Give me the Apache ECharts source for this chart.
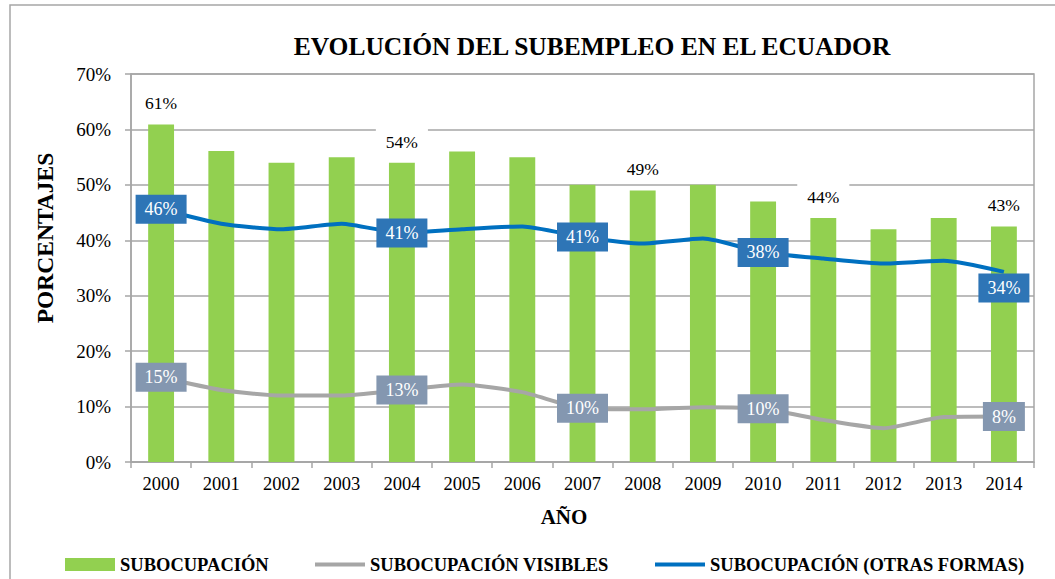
<!DOCTYPE html>
<html>
<head>
<meta charset="utf-8">
<script src="https://cdn.jsdelivr.net/npm/echarts@6/dist/echarts.min.js"></script>
<style>
  html, body { margin: 0; padding: 0; background: #fff; }
  #chart { width: 1055px; height: 579px; }
</style>
</head>
<body>
<div id="chart"></div>
<script>
// datos
const anios = ['2000', '2001', '2002', '2003', '2004', '2005', '2006', '2007', '2008', '2009', '2010', '2011', '2012', '2013', '2014']
const subocupacion = [60.9, 56.1, 54.0, 55.0, 54.0, 56.0, 55.0, 50.0, 49.0, 50.0, 47.0, 44.0, 42.0, 44.0, 42.5]
const subocupacionVisibles = [15.3, 13.0, 12.0, 12.0, 13.0, 14.0, 12.6, 9.7, 9.5, 9.9, 9.6, 7.6, 6.1, 8.1, 8.2]
const otrasFormas = [45.6, 43.0, 42.0, 43.0, 41.3, 42.0, 42.5, 40.6, 39.4, 40.3, 37.8, 36.7, 35.8, 36.3, 34.3]
// índices con etiqueta visible
const etiquetasBarra = [0, 4, 8, 11, 14]
const etiquetasLinea = [0, 4, 7, 10, 14]

const serif = "'Liberation Serif', 'Times New Roman', serif"
const gris = '#a6a6a6'
const pct = p => Math.round(p.value) + '%'

const chart = echarts.init(document.getElementById('chart'), null, { renderer: 'svg' })

const barData = subocupacion.map((v, i) => etiquetasBarra.includes(i)
  ? { value: v, label: { show: true } }
  : v)

function lineData(values, extra) {
  return values.map((v, i) => {
    if (!etiquetasLinea.includes(i)) return v
    const lab = { show: true }
    if (extra && extra[i]) Object.assign(lab, extra[i])
    return { value: v, label: lab }
  })
}

const legendText = { fontFamily: serif, fontSize: 18.5, fontWeight: 'bold', color: '#000' }

const option = {
  animation: false,
  backgroundColor: '#fff',
  textStyle: { fontFamily: serif },
  title: {
    text: 'EVOLUCIÓN DEL SUBEMPLEO EN EL ECUADOR',
    left: 587,
    top: 28,
    textAlign: 'center',
    textStyle: { fontFamily: serif, fontSize: 25.5, fontWeight: 'bold', color: '#000' }
  },
  graphic: [
    {
      type: 'rect', silent: true, z: -1,
      shape: { x: 10, y: 5, width: 1100, height: 700 },
      style: { fill: 'none', stroke: gris, lineWidth: 1.5 }
    },
    {
      type: 'text', x: 45, y: 238, rotation: Math.PI / 2,
      style: { text: 'PORCENTAJES', fontFamily: serif, fontSize: 23.5, fontWeight: 'bold', fill: '#000', align: 'center', verticalAlign: 'middle' }
    },
    {
      type: 'text', x: 564, y: 517,
      style: { text: 'AÑO', fontFamily: serif, fontSize: 21, fontWeight: 'bold', fill: '#000', align: 'center', verticalAlign: 'middle' }
    }
  ],
  legend: [
    {
      data: [{ name: 'SUBOCUPACIÓN', icon: 'rect' }],
      left: 65, top: 555, padding: 0, itemWidth: 50, itemHeight: 13,
      textStyle: legendText
    },
    {
      data: [{ name: 'SUBOCUPACIÓN VISIBLES', icon: 'rect' }],
      left: 315, top: 555, padding: 0, itemWidth: 50, itemHeight: 4,
      textStyle: legendText
    },
    {
      data: [{ name: 'SUBOCUPACIÓN (OTRAS FORMAS)', icon: 'rect' }],
      left: 655, top: 555, padding: 0, itemWidth: 50, itemHeight: 4,
      textStyle: legendText
    }
  ],
  grid: {
    left: 131, right: 21, top: 74, bottom: 117,
    show: true, borderColor: gris, borderWidth: 1.5
  },
  xAxis: {
    type: 'category',
    data: anios,
    axisLine: { lineStyle: { color: gris, width: 1.5 } },
    axisTick: { show: true, length: 6, lineStyle: { color: gris, width: 1.5 } },
    axisLabel: { fontFamily: serif, fontSize: 18.5, color: '#000', margin: 12 }
  },
  yAxis: {
    type: 'value',
    min: 0, max: 70, interval: 10,
    axisLine: { show: true, lineStyle: { color: gris, width: 1.5 } },
    axisTick: { show: true, length: 6, lineStyle: { color: gris, width: 1.5 } },
    splitLine: { lineStyle: { color: gris, width: 1.5 } },
    axisLabel: { fontFamily: serif, fontSize: 19, color: '#000', margin: 20, formatter: '{value}%' }
  },
  series: [
    {
      name: 'SUBOCUPACIÓN',
      type: 'bar',
      data: barData,
      barWidth: '43%',
      itemStyle: { color: '#92d050' },
      label: {
        show: false,
        position: 'top',
        distance: 7,
        formatter: pct,
        fontFamily: serif, fontSize: 17.5, color: '#000',
        backgroundColor: '#fff',
        padding: [5, 10]
      },
      z: 2
    },
    {
      name: 'SUBOCUPACIÓN VISIBLES',
      type: 'line',
      data: lineData(subocupacionVisibles),
      smooth: 0.2,
      symbol: 'circle',
      symbolSize: 0,
      lineStyle: { color: gris, width: 4 },
      itemStyle: { color: gris },
      label: {
        show: false,
        position: 'inside',
        formatter: pct,
        fontFamily: serif, fontSize: 18, color: '#fff',
        backgroundColor: '#8497b0',
        padding: [6, 9, 5, 9]
      },
      z: 3
    },
    {
      name: 'SUBOCUPACIÓN (OTRAS FORMAS)',
      type: 'line',
      data: lineData(otrasFormas, { 14: { offset: [0, 16] } }),
      smooth: 0.2,
      symbol: 'circle',
      symbolSize: 0,
      lineStyle: { color: '#0070c0', width: 4 },
      itemStyle: { color: '#0070c0' },
      label: {
        show: false,
        position: 'inside',
        formatter: pct,
        fontFamily: serif, fontSize: 18, color: '#fff',
        backgroundColor: '#2e75b6',
        padding: [6, 9, 5, 9]
      },
      z: 4
    }
  ]
}

chart.setOption(option)
window.addEventListener('resize', () => chart.resize())
</script>
</body>
</html>
